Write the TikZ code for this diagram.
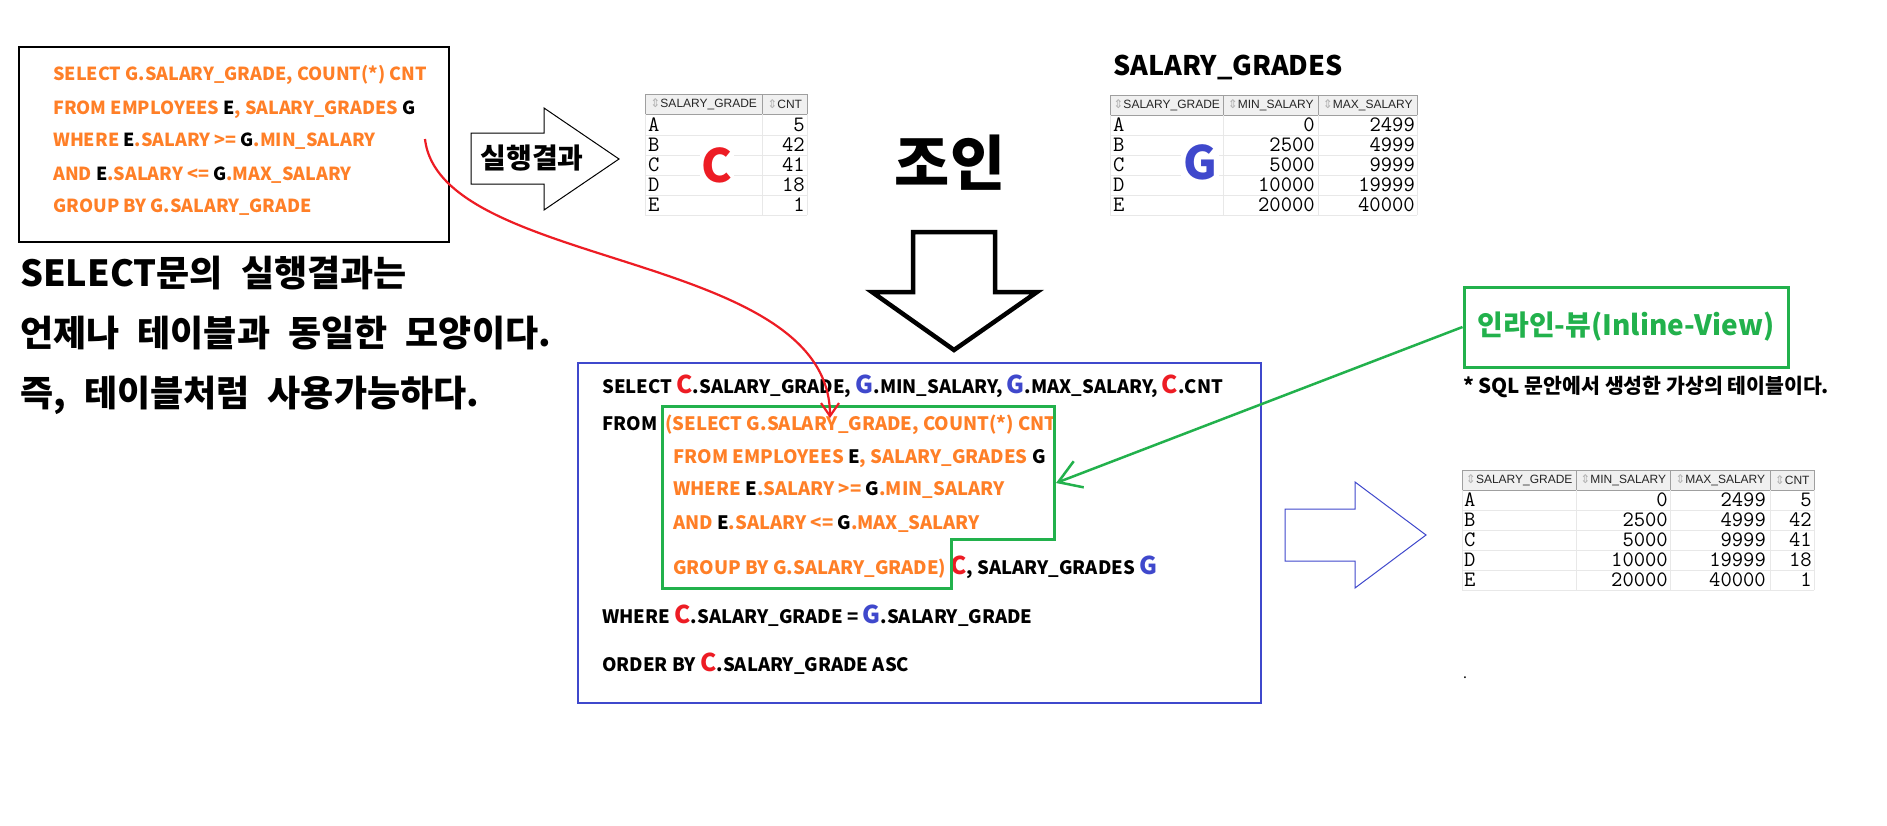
\documentclass[tikz,border=0pt]{standalone}
\usepackage{fontspec}
\setmainfont{Noto Sans CJK KR}
\newfontfamily\notefont{Noto Sans CJK KR}[WordSpace=2.2]
\newfontfamily\iconfont{DejaVu Sans}
\newfontfamily\hdrfont{Liberation Sans}
\usetikzlibrary{arrows.meta}

\definecolor{sqlorange}{HTML}{FF7F27}
\definecolor{markred}{HTML}{ED1C24}
\definecolor{markblue}{HTML}{3F48CC}
\definecolor{viewgreen}{HTML}{22B14C}

\newcommand\blk[1]{\textcolor{black}{#1}}
\newcommand\bigC{{\fontsize{24.5}{24.5}\selectfont\textcolor{markred}{C}}}
\newcommand\bigG{{\fontsize{24.5}{24.5}\selectfont\textcolor{markblue}{G}}}
\newcommand\sorticon{{\iconfont\textcolor{gray!60}{⇕}}}

\tikzset{
    sqltop/.style={anchor=base west, inner sep=0pt, text=sqlorange,
        font=\bfseries\fontsize{18}{18}\selectfont},
    sqlmain/.style={anchor=base west, inner sep=0pt,
        font=\bfseries\fontsize{18.5}{18.5}\selectfont},
    hdr/.style={draw=gray!75, fill=gray!12, anchor=north west, minimum height=20pt,
        inner sep=1pt, font=\hdrfont\fontsize{12}{12}\selectfont, text=black!85},
    cell/.style={inner sep=0pt, font=\ttfamily\fontsize{22}{22}\selectfont},
    rowline/.style={draw=gray!18, line width=1pt},
    bigmark/.style={fill=white, inner sep=2pt, font=\bfseries\fontsize{46}{46}\selectfont},
    note/.style={anchor=base west, inner sep=0pt, font=\notefont\bfseries\fontsize{36}{36}\selectfont}
}

\begin{document}
\begin{tikzpicture}[x=1pt, y=-1pt]
        \useasboundingbox (0,0) rectangle (1887,825);
        \fill[white] (0,0) rectangle (1887,825);

        \draw[black, line width=1.2pt] (19,47) rectangle (449,242);
        \node[sqltop] (qa1) at (53,80.5) {SELECT G.SALARY\_GRADE, COUNT(*) CNT};
        \node[sqltop] (qa2) at (53,114.5) {FROM EMPLOYEES \blk{E}, SALARY\_GRADES \blk{G}};
        \node[sqltop] (qa3) at (53,146.5) {WHERE \blk{E}.SALARY >= \blk{G}.MIN\_SALARY};
        \node[sqltop] (qa4) at (53,180.5) {AND \blk{E}.SALARY <= \blk{G}.MAX\_SALARY};
        \node[sqltop] (qa5) at (53,212.5) {GROUP BY G.SALARY\_GRADE};

        \node[note] (note1) at (20,286) {SELECT문의 실행결과는};
        \node[note] (note2) at (20,346) {언제나 테이블과 동일한 모양이다.};
        \node[note] (note3) at (20,406) {즉, 테이블처럼 사용가능하다.};

        \draw[black, line width=1pt]
            (471,133) -- (544,133) -- (544,108) -- (619,159) -- (544,210) -- (544,184) -- (471,184) -- cycle;
        \node[font=\bfseries\fontsize{28}{28}\selectfont] (run) at (532,158) {실행결과};

        \node[hdr, minimum width=117pt] (chd1) at (645,94) {\sorticon SALARY\_GRADE};
        \node[hdr, minimum width=45pt] (chd2) at (762,94) {\sorticon CNT};
        \foreach \g/\n [count=\i] in {A/5,B/42,C/41,D/18,E/1} {
            \draw[rowline] (645,115+20*\i) -- (807,115+20*\i);
            \node[cell, anchor=base west] (cg\i) at (648,111.5+20*\i) {\g};
            \node[cell, anchor=base east] (cn\i) at (805,111.5+20*\i) {\n};
        }
        \draw[rowline] (645,114) -- (645,215) (762,114) -- (762,215) (807,114) -- (807,215);
        \node[bigmark, text=markred] (cmark) at (717,165) {C};

        \node[font=\bfseries\fontsize{60}{60}\selectfont] (join) at (950,163) {조인};
        \draw[black, line width=4.5pt]
            (913,232) -- (995,232) -- (995,292) -- (1037,292) -- (954,350) -- (872,292) -- (913,292) -- cycle;

        \node[anchor=base west, inner sep=0pt, font=\bfseries\fontsize{27}{27}\selectfont] (gname) at (1113,75) {SALARY\_GRADES};
        \node[hdr, minimum width=113pt] (ghd1) at (1110,95) {\sorticon SALARY\_GRADE};
        \node[hdr, minimum width=95pt] (ghd2) at (1223,95) {\sorticon MIN\_SALARY};
        \node[hdr, minimum width=99pt] (ghd3) at (1318,95) {\sorticon MAX\_SALARY};
        \foreach \g/\lo/\hi [count=\i] in {A/0/2499,B/2500/4999,C/5000/9999,D/10000/19999,E/20000/40000} {
            \draw[rowline] (1110,115+20*\i) -- (1417,115+20*\i);
            \node[cell, anchor=base west] (gg\i) at (1113,111.5+20*\i) {\g};
            \node[cell, anchor=base east] (glo\i) at (1315,111.5+20*\i) {\lo};
            \node[cell, anchor=base east] (ghi\i) at (1415,111.5+20*\i) {\hi};
        }
        \draw[rowline] (1110,115) -- (1110,215) (1223,115) -- (1223,215) (1318,115) -- (1318,215) (1417,115) -- (1417,215);
        \node[bigmark, text=markblue] (gmark) at (1200,162) {G};

        \draw[markblue, line width=1.2pt] (578,363) rectangle (1261,703);
        \node[sqlmain] (qb1) at (602,393) {SELECT \bigC.SALARY\_GRADE, \bigG.MIN\_SALARY, \bigG.MAX\_SALARY, \bigC.CNT};
        \node[sqlmain] (qb2) at (602,430) {FROM};
        \node[sqlmain, text=sqlorange] (qb2s) at (665,430) {(SELECT G.SALARY\_GRADE, COUNT(*) CNT};
        \node[sqlmain, text=sqlorange] (qb3) at (673,463) {FROM EMPLOYEES \blk{E}, SALARY\_GRADES \blk{G}};
        \node[sqlmain, text=sqlorange] (qb4) at (673,495) {WHERE \blk{E}.SALARY >= \blk{G}.MIN\_SALARY};
        \node[sqlmain, text=sqlorange] (qb5) at (673,529) {AND \blk{E}.SALARY <= \blk{G}.MAX\_SALARY};
        \node[sqlmain, text=sqlorange] (qb6) at (673,574) {GROUP BY G.SALARY\_GRADE) \blk{\bigC, SALARY\_GRADES \bigG}};
        \node[sqlmain] (qb7) at (602,623) {WHERE \bigC.SALARY\_GRADE = \bigG.SALARY\_GRADE};
        \node[sqlmain] (qb8) at (602,671) {ORDER BY \bigC.SALARY\_GRADE ASC};
        \draw[viewgreen, line width=3pt]
            (662,406) -- (1054,406) -- (1054,539) -- (951,539) -- (951,588) -- (662,588) -- cycle;

        \node[draw=viewgreen, line width=3pt, text=viewgreen, minimum width=324pt, minimum height=80pt,
            inner sep=0pt, font=\bfseries\fontsize{28}{28}\selectfont] (iv) at (1626,327) {인라인-뷰(Inline-View)};
        \node[anchor=base west, inner sep=0pt, font=\bfseries\fontsize{20.5}{20.5}\selectfont] (ivnote) at (1463,393)
            {* SQL 문안에서 생성한 가상의 테이블이다.};

        \draw[markblue, line width=1pt]
            (1285,509) -- (1355,509) -- (1355,482) -- (1426,535) -- (1355,588) -- (1355,561) -- (1285,561) -- cycle;

        \node[hdr, minimum width=114pt] (rhd1) at (1462,470) {\sorticon SALARY\_GRADE};
        \node[hdr, minimum width=94pt] (rhd2) at (1576,470) {\sorticon MIN\_SALARY};
        \node[hdr, minimum width=100pt] (rhd3) at (1670,470) {\sorticon MAX\_SALARY};
        \node[hdr, minimum width=44pt] (rhd4) at (1770,470) {\sorticon CNT};
        \foreach \g/\lo/\hi/\n [count=\i] in {A/0/2499/5,B/2500/4999/42,C/5000/9999/41,D/10000/19999/18,E/20000/40000/1} {
            \draw[rowline] (1462,490+20*\i) -- (1814,490+20*\i);
            \node[cell, anchor=base west] (rg\i) at (1464,486.5+20*\i) {\g};
            \node[cell, anchor=base east] (rlo\i) at (1668,486.5+20*\i) {\lo};
            \node[cell, anchor=base east] (rhi\i) at (1766,486.5+20*\i) {\hi};
            \node[cell, anchor=base east] (rn\i) at (1812,486.5+20*\i) {\n};
        }
        \draw[rowline] (1462,490) -- (1462,590) (1576,490) -- (1576,590) (1670,490) -- (1670,590)
            (1770,490) -- (1770,590) (1814,490) -- (1814,590);
        \node[inner sep=0pt, font=\fontsize{14}{14}\selectfont] (dot) at (1465,678) {.};

        \coordinate (qend) at (425,139);
        \coordinate (subq) at (830,418);
        \draw[markred, line width=2.2pt, -{Straight Barb[length=13pt,width=18pt]}]
            (qend) .. controls (440,270) and (830,250) .. (subq);
        \coordinate (ivtip) at (1056,483);
        \draw[viewgreen, line width=2.5pt, -{Straight Barb[length=22pt,width=28pt]}]
            (iv.west) -- (ivtip);
    \end{tikzpicture}
\end{document}
